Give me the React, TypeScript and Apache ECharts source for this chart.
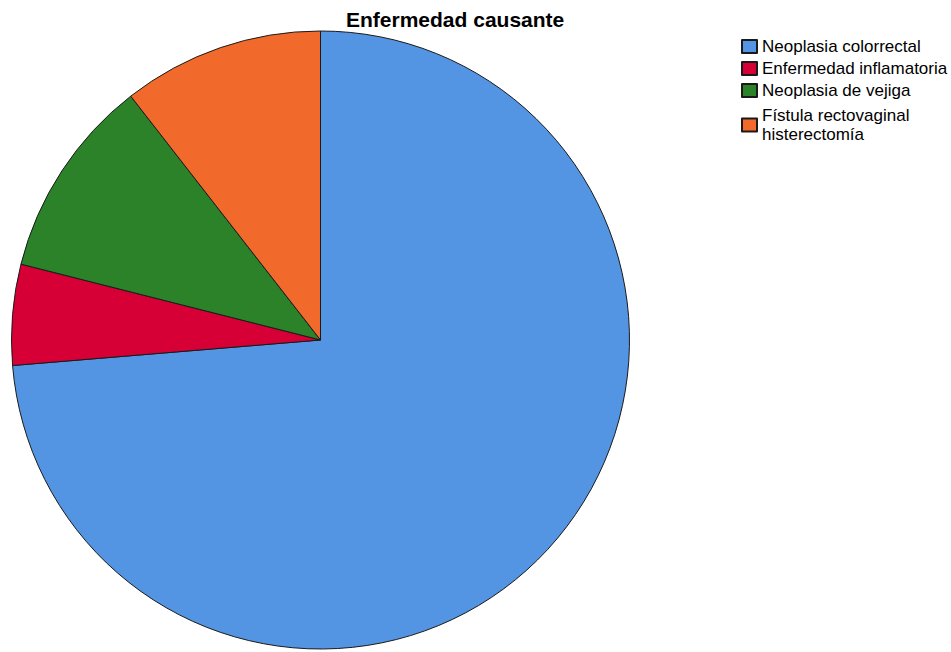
import React, { useEffect, useRef } from "react";
import * as echarts from "echarts";

// Casos por enfermedad causante
const categories = [
  "Neoplasia colorrectal",
  "Enfermedad inflamatoria",
  "Neoplasia de vejiga",
  "Fístula rectovaginal\nhisterectomía",
];
const counts = [14, 1, 2, 2];
const colors = ["#5394E3", "#D60036", "#2B8229", "#F26A2B"];
const chartTitle = "Enfermedad causante";

export default function App() {
  const ref = useRef<HTMLDivElement>(null);

  useEffect(() => {
    if (!ref.current) return;
    const chart = echarts.init(ref.current, undefined, { renderer: "svg" });
    const font = "'Liberation Sans', Arial, sans-serif";
    chart.setOption({
      animation: false,
      backgroundColor: "#ffffff",
      title: {
        text: chartTitle,
        left: 341,
        top: 4,
        textStyle: {
          fontFamily: font,
          fontSize: 21,
          fontWeight: "bold",
          color: "#000000",
        },
      },
      legend: {
        orient: "vertical",
        left: 741,
        top: 38,
        padding: 0,
        itemGap: 5,
        itemWidth: 15,
        itemHeight: 13,
        icon: "rect",
        selectedMode: false,
        textStyle: {
          fontFamily: font,
          fontSize: 17,
          lineHeight: 15,
          color: "#000000",
        },
        data: categories.map((name, i) =>
          i === categories.length - 1
            ? { name, textStyle: { lineHeight: 19, padding: [4, 0, 0, 0] } }
            : { name }
        ),
      },
      series: [
        {
          type: "pie",
          center: [320.5, 340],
          radius: 309,
          startAngle: 90,
          clockwise: true,
          avoidLabelOverlap: false,
          label: { show: false },
          labelLine: { show: false },
          emphasis: { disabled: true },
          itemStyle: { borderColor: "#1a1a1a", borderWidth: 1 },
          data: categories.map((name, i) => ({
            name,
            value: counts[i],
            itemStyle: { color: colors[i] },
          })),
        },
      ],
    });
    return () => chart.dispose();
  }, []);

  return (
    <div
      ref={ref}
      style={{ position: "fixed", left: 0, top: 0, width: 951, height: 652 }}
    />
  );
}
